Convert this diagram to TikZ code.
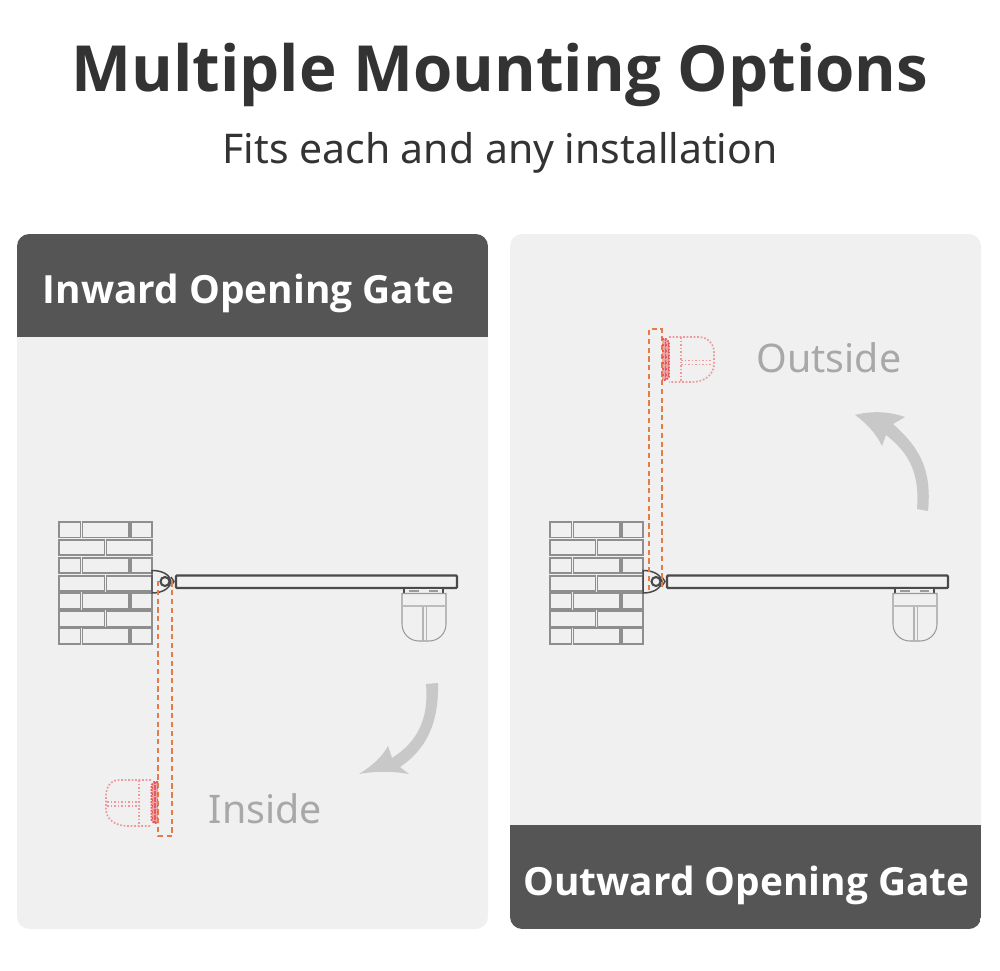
\documentclass[tikz,border=0pt]{standalone}
\usepackage{fontspec}
\setmainfont{Noto Sans}
\newfontfamily\headfont{Open Sans}
\definecolor{panelbg}{HTML}{F0F0F0}
\definecolor{headbg}{HTML}{555555}
\definecolor{titlec}{HTML}{333333}
\definecolor{brickc}{HTML}{8E8E8E}
\definecolor{barc}{HTML}{4A4A4A}
\definecolor{motorc}{HTML}{9A9A9A}
\definecolor{dashc}{HTML}{E27C48}
\definecolor{dotc}{HTML}{EE9A9C}
\definecolor{dotd}{HTML}{E8474C}
\definecolor{arrowc}{HTML}{C8C8C8}
\definecolor{labelc}{HTML}{A8A8A8}
\tikzset{
  brick/.style={draw=brickc,line width=0.95pt,fill=panelbg},
  bar/.style={draw=barc,line width=1.35pt,rounded corners=0.6pt,fill=panelbg},
  hingeline/.style={draw=barc,line width=0.85pt},
  motorline/.style={draw=motorc,line width=0.6pt,fill=panelbg},
  ghost/.style={draw=dashc,line width=0.8pt,dash pattern=on 3pt off 2pt},
  ghostdot/.style={draw=dotc,line width=0.95pt,dash pattern=on 1pt off 1pt},
  ghostred/.style={draw=dotd!80!dotc,line width=0.95pt,dash pattern=on 1pt off 0.7pt},
  ghostfill/.style={fill=dotd!45!panelbg,draw=none},
  turn/.style={fill=arrowc,draw=none},
  panelhead/.style={text=white,font=\headfont\bfseries\fontsize{22.1}{26}\selectfont,anchor=center},
  sidelabel/.style={text=labelc,font=\fontsize{22.4}{26}\selectfont,anchor=center}
}
\newcommand{\gateassembly}{%
  \foreach \ya/\yb/\kind in {522/537.5/0,540/555/1,558/573/0,576/591/1,593/609/0,611/627/1,628/644/0}{%
    \ifnum\kind=0
      \draw[brick] (59,\ya) rectangle (80.5,\yb);
      \draw[brick] (82.5,\ya) rectangle (129,\yb);
      \draw[brick] (131,\ya) rectangle (152,\yb);
    \else
      \draw[brick] (59,\ya) rectangle (104.5,\yb);
      \draw[brick] (106.5,\ya) rectangle (152,\yb);
    \fi
  }
  \draw[hingeline] (152,570.5) .. controls (163,570.5) and (170,575) .. (171,581.5)
     .. controls (170,588) and (163,593) .. (152,593) -- cycle;
  \draw[hingeline,line width=1.2pt,fill=panelbg] (165,581.5) circle (4.5);
  \draw[hingeline] (171,577) -- (174,581.5) -- (171,586);
  \draw[bar] (176,575.5) rectangle (457,588);
  \draw[motorline,draw=barc] (404,588.5) rectangle (443,593.5);
  \draw[motorc,line width=1pt] (409,591) -- (419,591) (429,591) -- (438,591);
  \draw[motorline] (402,593.5) -- (446,593.5) -- (446,624)
     .. controls (446,634) and (438,641) .. (429,641) -- (419,641)
     .. controls (410,641) and (402,634) .. (402,624) -- cycle;
  \draw[motorline,fill=none,draw=motorc!60!panelbg] (402,606) -- (446,606);
  \draw[motorline,fill=none,draw=motorc!70!panelbg] (423,607) -- (423,641) (426.5,607) -- (426.5,641);
}
\begin{document}
\begin{tikzpicture}[x=0.02cm,y=-0.02cm]
\useasboundingbox (0,0) rectangle (1000,970);
\fill[white] (0,0) rectangle (1000,970);
\node[text=titlec,font=\headfont\bfseries\fontsize{36.2}{42}\selectfont] (title) at (500,75) {Multiple Mounting Options};
\node[text=titlec,font=\fontsize{23.3}{28}\selectfont] (subtitle) at (500,153) {Fits each and any installation};
% panels
\fill[panelbg,rounded corners=7pt] (17,234) rectangle (488,929);
\fill[panelbg,rounded corners=7pt] (510,234) rectangle (981,929);
\begin{scope}
\clip[rounded corners=7pt] (17,234) rectangle (488,929);
\fill[headbg] (17,234) rectangle (488,337);
\end{scope}
\begin{scope}
\clip[rounded corners=7pt] (510,234) rectangle (981,929);
\fill[headbg] (510,825) rectangle (981,929);
\end{scope}
\node[panelhead] (inhead) at (248.5,293) {Inward Opening Gate};
\node[panelhead] (outhead) at (746.5,885) {Outward Opening Gate};
\node[sidelabel] (inside) at (265.5,809) {Inside};
\node[sidelabel] (outside) at (829,358) {Outside};
% left assembly
\gateassembly
\fill[ghostfill] (158,782) -- (154,782) -- (151.5,785) -- (151.5,820) -- (154,823) -- (158,823) -- cycle;
\draw[ghost] (158,581) -- (158,836) -- (172,836) -- (172,581) ;
\draw[ghostdot] (151,780) -- (119,780) .. controls (110,780) and (106,788) .. (106,796) -- (106,809)
   .. controls (106,820) and (116,826) .. (128,826) -- (151,826);
\draw[ghostdot] (139,780) -- (139,826);
\draw[ghostdot] (107,802) -- (139,802) (107,806) -- (139,806);
\draw[ghostred] (158,782) -- (154,782) -- (151.5,785) -- (151.5,820) -- (154,823) -- (158,823);
\draw[ghostred] (155,782) -- (155,823);
\draw[ghostred] (151.5,788) -- (158,788) (151.5,794) -- (158,794) (151.5,800) -- (158,800) (151.5,806) -- (158,806) (151.5,812) -- (158,812) (151.5,818) -- (158,818);
\fill[turn] (426,684) -- (438,683)
   .. controls (439,725) and (425,750) .. (400,767)
   -- (409,774) .. controls (392,771) and (375,771) .. (359,774)
   .. controls (372,766) and (382,757) .. (388,746)
   -- (392,758) .. controls (417,742) and (429,720) .. (426,684) -- cycle;
% right assembly
\begin{scope}[shift={(491,0)}]
\gateassembly
\end{scope}
\fill[ghostfill] (662,339) -- (666,339) -- (669,342) -- (669,377) -- (666,380) -- (662,380) -- cycle;
\draw[ghost] (649,590) -- (649,329) -- (662,329) -- (662,590);
\draw[ghostdot] (669,337) -- (698,337) .. controls (708,337) and (714,344) .. (714,352) -- (714,364)
   .. controls (714,375) and (704,382) .. (692,382) -- (669,382);
\draw[ghostdot] (681,337) -- (681,382);
\draw[ghostdot] (681,360.5) -- (712,360.5) (681,364.5) -- (712,364.5);
\draw[ghostred] (662,339) -- (666,339) -- (669,342) -- (669,377) -- (666,380) -- (662,380);
\draw[ghostred] (665.5,339) -- (665.5,380);
\draw[ghostred] (662,345) -- (669,345) (662,351) -- (669,351) (662,357) -- (669,357) (662,363) -- (669,363) (662,369) -- (669,369) (662,375) -- (669,375);
\fill[turn] (917,509) -- (928,511)
   .. controls (932,470) and (920,448) .. (893,424)
   -- (905,417) .. controls (888,411) and (870,411) .. (855,415)
   .. controls (865,422) and (876,433) .. (882,446)
   -- (886,435) .. controls (908,452) and (920,472) .. (917,509) -- cycle;
\end{tikzpicture}
\end{document}
